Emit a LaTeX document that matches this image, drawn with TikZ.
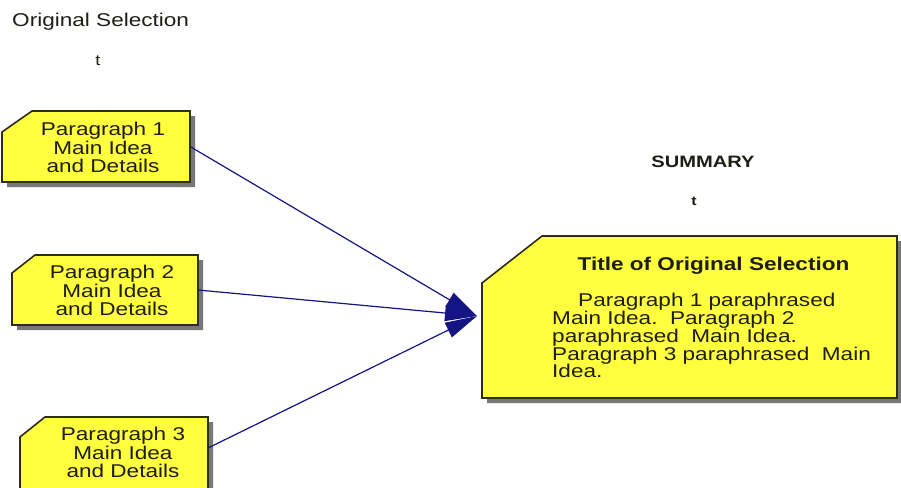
\documentclass[tikz,border=0pt]{standalone}
\usepackage{fontspec}
\setmainfont{Liberation Sans}[FakeStretch=1.22]
\usetikzlibrary{arrows.meta}
\definecolor{boxyellow}{RGB}{255,255,64}
\definecolor{boxedge}{RGB}{45,45,25}
\definecolor{shadowgray}{RGB}{120,120,120}
\definecolor{arrownavy}{RGB}{20,20,130}
\definecolor{txt}{RGB}{30,30,20}
% #1 node name, #2 chamfer width, #3 chamfer height, #4 x shift, #5 y shift
\newcommand\champath[5]{([xshift=#2+#4,yshift=#5]#1.north west) -- ([xshift=#4,yshift=#5]#1.north east) -- ([xshift=#4,yshift=#5]#1.south east) -- ([xshift=#4,yshift=#5]#1.south west) -- ([xshift=#4,yshift=#5-#3]#1.north west) -- cycle}
\newcommand\chambox[3]{%
  \fill[boxshadow] \champath{#1}{#2}{#3}{5pt}{-5pt};
  \filldraw[boxfill] \champath{#1}{#2}{#3}{0pt}{0pt};}
\begin{document}
\begin{tikzpicture}[x=1pt,y=-1pt,
  frame/.style={draw=none,inner sep=0pt,outer sep=0pt,rectangle},
  boxfill/.style={fill=boxyellow,draw=boxedge,line width=1.6pt,line join=miter},
  boxshadow/.style={fill=shadowgray},
  lbl/.style={inner sep=0pt,text=txt,font=\fontsize{18.5}{18.5}\selectfont,align=center},
  body/.style={inner sep=0pt,text=txt,font=\fontsize{18.5}{17.8}\selectfont,align=left},
  head/.style={inner sep=0pt,text=txt},
  conn/.style={draw=arrownavy,line width=1.2pt,-{Triangle[length=32pt,width=16pt]}}]
\useasboundingbox (0,0) rectangle (901,487);
\clip (0,0) rectangle (901,487);

\node[head,anchor=north west,font=\fontsize{18.5}{18.5}\selectfont] (orig) at (12,13) {Original Selection};
\node[head,anchor=base,font=\fontsize{15}{15}\selectfont] (origt) at (98,66) {t};
\node[head,anchor=base,font=\fontsize{16.5}{16.5}\selectfont\bfseries] (summ) at (703,167) {SUMMARY};
\node[head,anchor=base,font=\fontsize{13}{13}\selectfont\bfseries] (summt) at (694,205) {t};

\node[frame,minimum width=188pt,minimum height=71pt] (p1) at (96,146.5) {};
\node[frame,minimum width=186pt,minimum height=70pt] (p2) at (105,290) {};
\node[frame,minimum width=188pt,minimum height=76pt] (p3) at (114,455) {};
\node[frame,minimum width=415pt,minimum height=162pt] (sum) at (689.5,317) {};

\chambox{p1}{30pt}{21pt}
\chambox{p2}{23pt}{18pt}
\chambox{p3}{25pt}{20pt}
\chambox{sum}{60pt}{47pt}

\node[lbl,anchor=north] (t1) at (103,122) {Paragraph 1\\Main Idea\\and Details};
\node[lbl,anchor=north] (t2) at (112,265) {Paragraph 2\\Main Idea\\and Details};
\node[lbl,anchor=north] (t3) at (123,427) {Paragraph 3\\Main Idea\\and Details};

\node[head,anchor=north,font=\fontsize{18.5}{18.5}\selectfont\bfseries] (stitle) at (713.5,257) {Title of Original Selection};
\node[body,anchor=north west] (sbody) at (552,293) {\hspace*{26pt}Paragraph 1 paraphrased\\Main Idea.\ \ Paragraph 2\\paraphrased\ \ Main Idea.\\Paragraph 3 paraphrased\ \ Main\\Idea.};

\coordinate (tip) at (477,316);
\draw[conn] (p1.east) -- (tip);
\draw[conn] (p2.east) -- (tip);
\draw[conn] ([yshift=7pt]p3.east) -- (tip);
\end{tikzpicture}
\end{document}
